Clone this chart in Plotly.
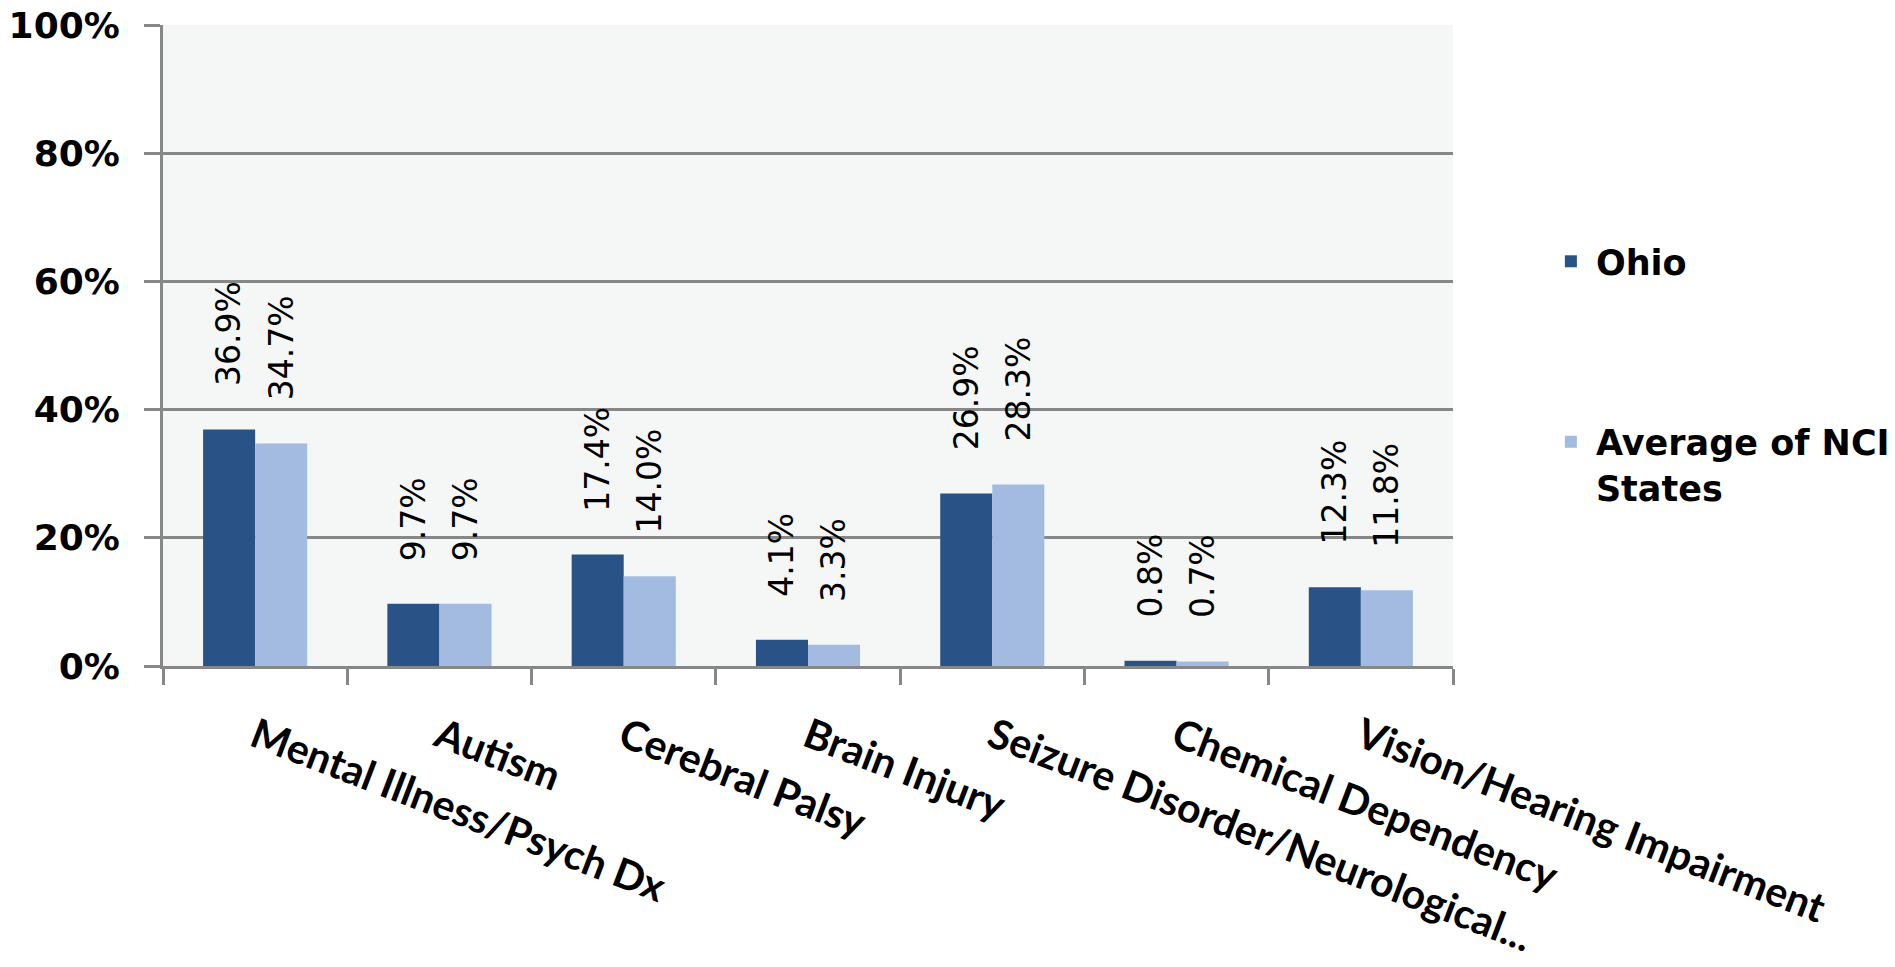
import plotly.graph_objects as go

categories = ["Mental Illness/Psych Dx", "Autism", "Cerebral Palsy", "Brain Injury",
              "Seizure Disorder/Neurological...", "Chemical Dependency",
              "Vision/Hearing Impairment"]
ohio = [36.9, 9.7, 17.4, 4.1, 26.9, 0.8, 12.3]
nci = [34.7, 9.7, 14.0, 3.3, 28.3, 0.7, 11.8]
series_names = ["Ohio", "Average of NCI<br>States"]
series_colors = ["#295387", "#A4BBE1"]
y_ticks = [0, 20, 40, 60, 80, 100]

BARGAP = 0.435
idx = list(range(len(categories)))

fig = go.Figure()
for name, vals, col, grp in zip(series_names, [ohio, nci], series_colors, ["g1", "g2"]):
    fig.add_trace(go.Bar(x=idx, y=vals, name=name, marker=dict(color=col, line=dict(width=0)),
                         legendgroup=grp))

# data labels above bars
half = (1 - BARGAP) / 2
offsets = [-half / 2, half / 2]
annotations = []
for vals, off in zip([ohio, nci], offsets):
    for i, v in zip(idx, vals):
        annotations.append(dict(x=i + off, y=v, xref="x", yref="y", text=f"{v:.1f}%",
                                textangle=-90, showarrow=False, xanchor="center",
                                yanchor="bottom", yshift=41,
                                font=dict(family="DejaVu Sans", size=33, color="#000000")))

fig.update_layout(
    width=1895, height=967,
    margin=dict(l=163, r=442, t=25, b=301, autoexpand=False),
    paper_bgcolor="#FFFFFF",
    plot_bgcolor="#F5F7F7",
    barmode="group",
    bargap=BARGAP,
    bargroupgap=0,
    showlegend=True,
    legend=dict(x=1.072, y=0.677, xanchor="left", yanchor="top",
                font=dict(family="DejaVu Sans", size=35, color="#000000", weight="bold"),
                tracegroupgap=132, valign="top", traceorder="grouped", itemwidth=40,
                bgcolor="rgba(0,0,0,0)"),
    annotations=annotations,
)
fig.update_yaxes(range=[0, 100], tickvals=y_ticks, ticktext=[f"{t}%" for t in y_ticks],
                 showgrid=True, gridcolor="#878787", gridwidth=3,
                 showline=True, linecolor="#878787", linewidth=3,
                 ticks="outside", ticklen=16, tickcolor="#878787", tickwidth=3,
                 ticklabelstandoff=17, automargin=False,
                 tickfont=dict(family="DejaVu Sans", size=36, color="#000000", weight="bold"),
                 zeroline=False)
fig.update_xaxes(tickvals=idx, ticktext=categories, range=[-0.5, len(categories) - 0.5],
                 showline=True, linecolor="#878787", linewidth=3,
                 ticks="", tickangle=21, ticklabelstandoff=28, automargin=False,
                 tickfont=dict(family="Lato", size=41, color="#000000", weight="bold"),
                 showgrid=False, zeroline=False)
# boundary tick marks between categories via minor ticks
fig.update_xaxes(minor=dict(tickvals=[i - 0.5 for i in idx] + [len(categories) - 0.5],
                            ticks="outside", ticklen=16, tickcolor="#878787", tickwidth=3,
                            showgrid=False))

fig.write_html("out.html")
